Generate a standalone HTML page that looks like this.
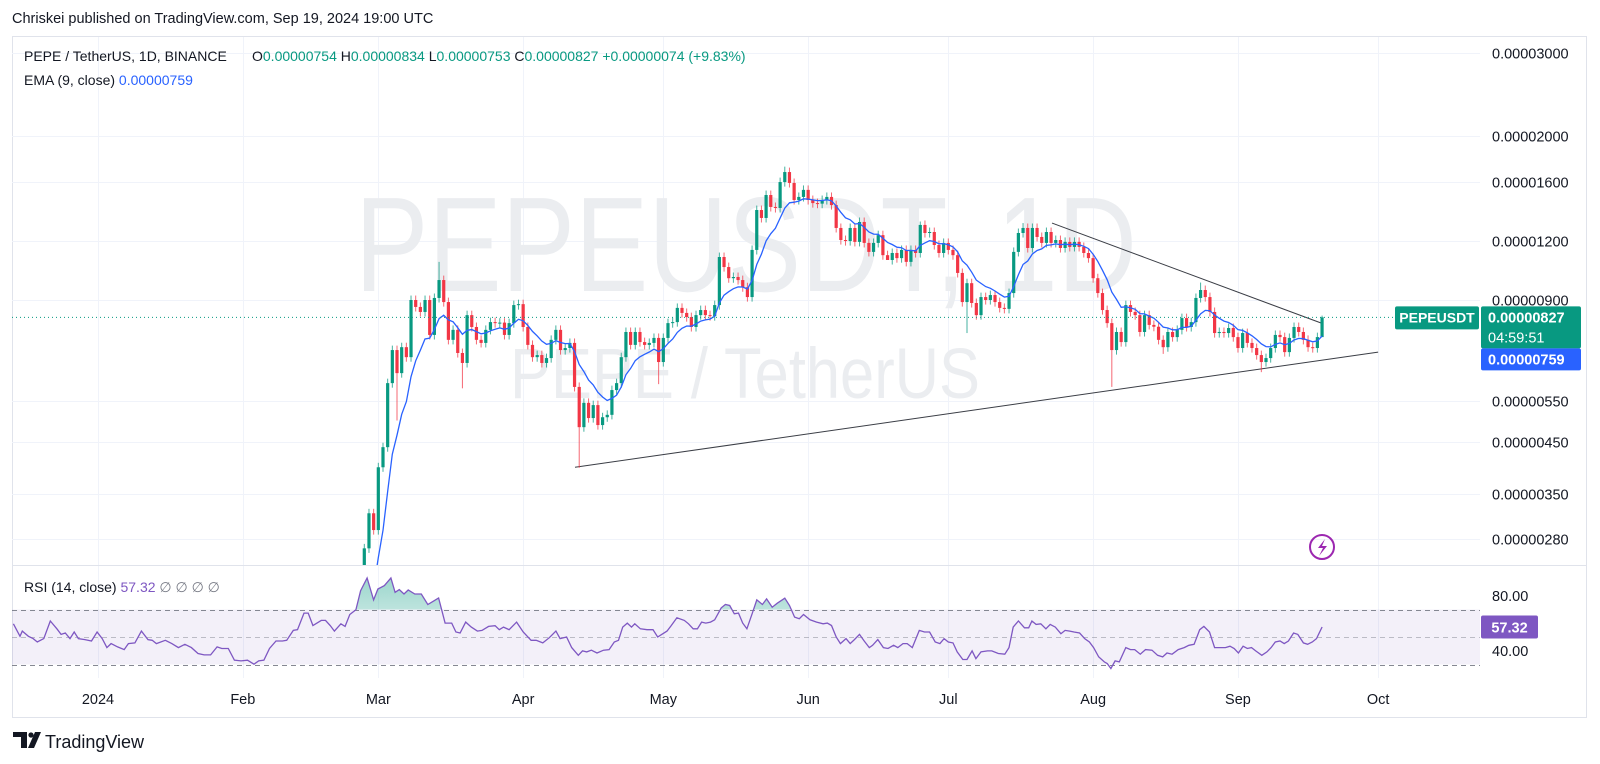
<!DOCTYPE html>
<html><head><meta charset="utf-8"><title>PEPEUSDT 1D</title>
<style>
html,body{margin:0;padding:0;background:#fff;}
svg{display:block;font-family:"Liberation Sans",sans-serif;}
</style></head>
<body>
<svg id="chart" xmlns="http://www.w3.org/2000/svg" width="1600" height="764" viewBox="0 0 1600 764">
<defs>
<clipPath id="priceClip"><rect x="12" y="36" width="1468" height="529"/></clipPath>
<clipPath id="rsiClip"><rect x="12" y="566" width="1468" height="112"/></clipPath>
<clipPath id="obClip"><rect x="12" y="566" width="1468" height="43.5"/></clipPath>
<linearGradient id="obGrad" x1="0" y1="0" x2="0" y2="1"><stop offset="0" stop-color="#089981" stop-opacity="0.4"/><stop offset="1" stop-color="#089981" stop-opacity="0.02"/></linearGradient>
</defs>
<text x="12" y="23" font-size="14.5" fill="#131722">Chriskei published on TradingView.com, Sep 19, 2024 19:00 UTC</text>
<rect x="12.5" y="36.5" width="1574" height="681" fill="#fff" stroke="#e0e3eb"/>
<g id="grid"></g>
<g>
<text x="355" y="291" font-size="135" fill="#ebedf0" textLength="782" lengthAdjust="spacingAndGlyphs">PEPEUSDT, 1D</text>
<text x="510" y="398" font-size="71" fill="#ebedf0" textLength="470" lengthAdjust="spacingAndGlyphs">PEPE / TetherUS</text>
</g>
<g id="pricePane" clip-path="url(#priceClip)"></g>
<line x1="12" y1="565.5" x2="1586" y2="565.5" stroke="#e0e3eb"/>
<g id="rsiPane"></g>
<g id="axes"></g>
<g font-size="14">
<text x="24" y="61" fill="#131722">PEPE / TetherUS, 1D, BINANCE</text>
<text x="252" y="61" fill="#131722">O<tspan fill="#089981">0.00000754</tspan>  H<tspan fill="#089981">0.00000834</tspan>  L<tspan fill="#089981">0.00000753</tspan>  C<tspan fill="#089981">0.00000827</tspan>  <tspan fill="#089981">+0.00000074 (+9.83%)</tspan></text>
<text x="24" y="85" fill="#131722">EMA (9, close)  <tspan fill="#2962ff">0.00000759</tspan></text>
<text x="24" y="592" fill="#131722">RSI (14, close)  <tspan fill="#7e57c2">57.32</tspan>  <tspan fill="#787b86">∅  ∅  ∅  ∅</tspan></text>
</g>
<g>
<circle cx="1322" cy="547" r="12" fill="none" stroke="#9c27b0" stroke-width="2"/>
<path d="M1325 539 L1318 548 L1323 548 L1319 556 L1327 546 L1322 546 Z" fill="#9c27b0"/>
</g>
<g>
<path d="M13 732 H27 V748 H21 V737 H13 Z" fill="#131722"/>
<circle cx="31" cy="735" r="2.6" fill="#131722"/>
<path d="M35 732 H41 L34 748 H28 Z" fill="#131722"/>
<text x="45" y="748" font-size="18" fill="#131722">TradingView</text>
</g>
</svg>
<script>
// ---- data (prices in units of 1e-8) ----
const firstDay = 57; // day-of-year of first candle (Feb 27)
const firstOpen = 240;
const closes = [268,318,293,398,439,600,705,630,715,681,900,870,849,900,759,909,992,891,741,778,
695,662,836,789,741,730,778,808,804,806,759,804,878,882,789,723,681,688,662,678,
741,778,705,712,730,589,484,545,506,539,489,508,514,580,600,681,770,723,770,733,
723,730,748,665,748,804,808,866,845,828,789,836,857,836,832,878,1110,1057,1001,1007,
992,958,913,1149,1396,1343,1502,1417,1410,1600,1680,1593,1466,1488,1540,1466,1444,1440,1466,1488,
1430,1279,
1206,1200,1279,1195,1317,1189,1138,1189,1235,1120,
1094,1132,1104,1149,1084,1149,1132,1298,1248,1254,
1177,1132,1189,1149,1120,1027,891,977,887,836,
913,900,922,891,866,862,931,1138,1248,1279,
1160,1279,1224,1189,1254,1189,1206,1160,1195,1166,
1195,1166,1132,1104,1001,931,857,804,705,770,
733,878,849,836,770,836,797,790,741,715,
770,751,778,824,789,808,909,945,913,849,
766,770,766,785,751,712,766,730,712,688,
665,678,712,759,751,698,748,789,770,741,
715,712,751,827];
const highIdx = [16,90,119,141,179,205];
const highVal = [1084,1725,1320,1310,980,834];
const lowIdx = [7,21,46,63,112,129,160,171,192,205];
const lowVal = [500,585,397,597,1110,766,589,692,633,753];
const emaSeed = 150;
const emaPeriod = 9;
const priceTicks = [3000,2000,1600,1200,900,550,450,350,280];
const priceTickLabels = ["0.00003000","0.00002000","0.00001600","0.00001200","0.00000900","0.00000550","0.00000450","0.00000350","0.00000280"];
const monthDays = [0,31,60,91,121,152,182,213,244,274];
const monthLabels = ["2024","Feb","Mar","Apr","May","Jun","Jul","Aug","Sep","Oct"];
const trendUpperDays = [204.2,262];
const trendUpperVals = [1310,803];
const trendLowerDays = [102.1,274];
const trendLowerVals = [398,698];
const rsiDays = [-18.1,-16.7,-16.2,-14.9,-13.9,-13,-11.6,-10.2,-8.8,-7.9,-7,-6,-5.1,-4.2,-2.8,-1.4,-0.2,0.9,1.9,2.8,4.2,5.6,6.5,7.9,9.3,10.7,11.6,12.5,14.4,15.8,17.2,18.6,20,21.4,22.7,24.1,25.5,26.5,27.9,29.2,30.6,32,33.4,34.4,35.5,36.7,38.1,39.5,40.4,41.8,42.7,44.1,45,46,47.8,48.7,49.7,50.6,52,52.9,53.9,55.2,56.2,57.6,59,59.9,61.3,62.7,63.6,64.5,65.5,66.4,67.8,69.2,70.6,72,72.9,74.3,75.7,76.6,77.5,78.7,79.9,81.2,82.2,83.6,85,85.9,86.8,88,89.6,91,92.7,93.8,95.2,96.6,98,98.9,100.3,101.4,102.8,103.7,104.6,105.6,106.8,108.2,109.4,110.5,111.4,112.3,113.3,114.2,114.9,116.1,117.5,118.8,119.8,
121.8,122.7,123.9,125.5,126.4,127.4,128.3,129.2,130.1,131.1,132,133.4,134.3,135.2,136.2,137.1,138,138.9,140,141,142.2,143.1,144.3,145.4,147,148,149.1,150.1,151,152.4,153.8,155.2,156.1,157,158,158.9,160.1,161,161.9,163,164,165.1,165.8,166.9,168.1,169.1,170.3,171.2,172.3,173.2,174.3,175.8,176.9,178,179.2,180.2,181.1,182,183,183.9,185.1,186,187.1,187.9,189,190.4,191.3,192.7,194.1,195,195.9,197,198.3,199.2,199.9,200.8,201.8,202.9,203.8,204.9,206.1,207,208,208.9,210.1,211.2,212.2,213.1,214.2,215.4,216,216.8,217.7,218.6,220,221,221.9,223.1,224.2,225.6,226.8,227.9,228.8,229.9,231.2,232.5,233.5,234.6,235.8,236.7,237.9,239,240.4,241.3,242.3,243.2,244.1,245.1,246,246.9,247.8,249.1,250.2,251.1,252,253,253.9,254.8,255.9,256.8,258,258.9,259.9,260.8,262];
const rsiVals = [59.6,50.5,54.3,50.5,48.8,46.4,48.8,61.6,56.0,51.9,52.9,48.8,53.6,48.8,48.1,47.1,53.6,48.8,42.3,45.2,42.8,40.8,45.2,45.7,54.3,48.1,47.6,45.2,47.6,45.2,42.3,44.7,42.3,38.0,37.0,37.0,42.8,41.6,41.6,33.1,32.6,33.1,30.2,32.6,33.1,41.6,47.1,47.1,47.6,54.8,55.3,67.4,67.4,58.4,62.1,62.1,58.4,54.3,59.6,57.7,66.4,69.8,83.7,92.9,77.0,84.9,87.4,92.9,82.5,84.5,81.3,84.2,81.3,81.3,73.6,76.5,78.4,60.1,60.1,53.6,52.9,60.8,57.2,54.3,54.8,57.7,58.2,55.3,57.2,55.3,60.8,53.6,47.6,47.6,45.7,49.5,54.3,48.8,50.0,42.3,36.7,39.9,39.2,40.4,38.4,40.4,40.8,46.4,47.6,57.2,60.1,57.2,59.6,56.0,55.3,55.3,50.0,
54.3,58.4,64.0,62.1,59.6,56.0,56.0,60.8,60.1,60.8,62.5,71.2,73.6,72.9,66.9,67.4,60.1,56.0,66.9,77.0,73.6,77.7,71.7,74.6,78.2,72.9,64.5,63.3,66.4,62.5,60.8,59.6,60.1,58.4,50.0,45.2,48.8,45.2,48.1,51.9,47.1,42.3,44.0,48.1,42.3,41.6,44.0,42.3,45.2,45.2,42.3,54.8,53.6,53.6,46.4,45.2,48.8,46.4,45.7,39.2,33.6,33.6,39.9,34.3,39.2,39.9,39.9,38.0,37.5,42.3,57.2,61.6,56.7,56.7,61.6,59.2,59.6,56.0,59.2,57.2,52.4,54.8,54.3,53.6,52.9,48.8,46.4,42.3,35.5,31.9,30.7,27.1,32.6,31.9,42.3,40.8,40.8,37.5,40.8,40.4,36.7,35.5,38.4,37.5,40.8,42.3,44.0,44.7,55.3,57.7,53.6,42.3,42.3,42.3,43.3,41.6,38.4,43.3,41.6,42.3,39.9,36.7,39.2,42.3,46.4,47.1,45.2,47.1,52.9,51.9,45.7,44.7,46.4,48.8,57.3];
const rsiLevels = [70,50,30];
const rsiTickVals = [80,40];

// ---- scales ----
const NS = "http://www.w3.org/2000/svg";
function xDay(d){ return 98 + 4.672 * d; }
function yPrice(p){ return 300 - 205 * Math.log(p / 900); }
function yRsi(v){ return 637 - (v - 50) * 1.375; }
function mk(tag, attrs, parent){ const e = document.createElementNS(NS, tag); for (const k in attrs) e.setAttribute(k, attrs[k]); parent.appendChild(e); return e; }
function fmt(v){ return (v*1e-8).toFixed(8); }

const grid = document.getElementById('grid');
const axes = document.getElementById('axes');
const pp = document.getElementById('pricePane');
const rp = document.getElementById('rsiPane');

// grid
priceTicks.forEach((p,i)=>{
  const y = Math.round(yPrice(p)) + 0.5;
  const l = mk('line',{x1:12,y1:y,x2:1480,y2:y,stroke:'#f0f3fa'},grid);
  
  
  const t = mk('text',{x:1492,y:y+5,'font-size':14.5,fill:'#131722'},axes);
  t.textContent = priceTickLabels[i];
  
  
});
monthDays.forEach((d,i)=>{
  const x = Math.round(xDay(d)) + 0.5;
  const l = mk('line',{x1:x,y1:37,x2:x,y2:678,stroke:'#f0f3fa'},grid);
  
  
  const t = mk('text',{x:xDay(d),y:704,'font-size':14.5,fill:'#131722','text-anchor':'middle'},axes);
  t.textContent = monthLabels[i];
  
  
});

// trend lines
[[trendUpperDays,trendUpperVals,'trendline-upper'],[trendLowerDays,trendLowerVals,'trendline-lower']].forEach(tl=>{
  const l = mk('line',{x1:xDay(tl[0][0]),y1:yPrice(tl[1][0]),x2:xDay(tl[0][1]),y2:yPrice(tl[1][1]),stroke:'#3a3d45','stroke-width':1},pp);
  
  
});

// candles
let ema = emaSeed; const emaPts = [];
const k = 2/(emaPeriod+1);
closes.forEach((c,i)=>{
  const o = i===0 ? firstOpen : closes[i-1];
  let h = Math.max(o,c)*1.022, lo = Math.min(o,c)*0.978;
  const hi = highIdx.indexOf(i); if (hi>=0) h = highVal[hi];
  const li = lowIdx.indexOf(i); if (li>=0) lo = lowVal[li];
  const up = c >= o;
  const col = up ? '#089981' : '#f23645';
  const x = xDay(firstDay + i);
  const g = mk('g',{},pp);
  
  
  mk('line',{x1:x,y1:yPrice(h),x2:x,y2:yPrice(lo),stroke:col,'stroke-width':1,opacity:0.75},g);
  const yt = yPrice(Math.max(o,c)), yb = yPrice(Math.min(o,c));
  mk('rect',{x:x-1.6,y:yt,width:3.2,height:Math.max(1,yb-yt),fill:col},g);
  ema = ema + k*(c-ema);
  emaPts.push(x.toFixed(1)+','+yPrice(ema).toFixed(1));
});
const emaLine = mk('polyline',{points:emaPts.join(' '),fill:'none',stroke:'#2962ff','stroke-width':1.3},pp);



// last price line
const lastC = closes[closes.length-1];
const yl = yPrice(lastC);
const pl = mk('line',{x1:12,y1:yl,x2:1480,y2:yl,stroke:'#089981','stroke-dasharray':'1,3','stroke-width':1},pp);



// price labels
const symBox = mk('rect',{x:1395,y:yl-11,width:84,height:23,rx:2,fill:'#089981'},axes);


const symT = mk('text',{x:1437,y:yl+5,'font-size':14,'font-weight':'bold',fill:'#fff','text-anchor':'middle'},axes);
symT.textContent = 'PEPEUSDT';


const lpBox = mk('rect',{x:1481,y:yl-11,width:100,height:42,rx:2,fill:'#089981'},axes);


const lpT = mk('text',{x:1488,y:yl+5,'font-size':14.5,'font-weight':'bold',fill:'#fff'},axes);
lpT.textContent = fmt(lastC);


const cdT = mk('text',{x:1488,y:yl+25,'font-size':14.5,fill:'#fff'},axes);
cdT.textContent = '04:59:51';


const emBox = mk('rect',{x:1481,y:yl+31,width:100,height:22,rx:2,fill:'#2962ff'},axes);


const emT = mk('text',{x:1488,y:yl+47,'font-size':14.5,'font-weight':'bold',fill:'#fff'},axes);
emT.textContent = '0.00000759';



// RSI pane
const band = mk('rect',{x:12,y:yRsi(70),width:1468,height:yRsi(30)-yRsi(70),fill:'#7e57c2','fill-opacity':0.09},rp);


rsiLevels.forEach(v=>{
  const y = Math.round(yRsi(v))+0.5;
  const l = mk('line',{x1:12,y1:y,x2:1480,y2:y,stroke:'#787b86','stroke-dasharray':'5,4','stroke-opacity':v===50?0.45:0.9},rp);
  
  
});
const rpts = rsiDays.map((d,i)=>xDay(d).toFixed(1)+','+yRsi(rsiVals[i]).toFixed(1));
const ob = mk('polygon',{points:xDay(rsiDays[0]).toFixed(1)+','+yRsi(70)+' '+rpts.join(' ')+' '+xDay(rsiDays[rsiDays.length-1]).toFixed(1)+','+yRsi(70),fill:'url(#obGrad)','clip-path':'url(#obClip)'},rp);


const rl = mk('polyline',{points:rpts.join(' '),fill:'none',stroke:'#7e57c2','stroke-width':1.3,'clip-path':'url(#rsiClip)'},rp);


rsiTickVals.forEach(v=>{
  const t = mk('text',{x:1492,y:yRsi(v)+5,'font-size':14.5,fill:'#131722'},axes);
  t.textContent = v.toFixed(2);
  
  
});
const lastR = rsiVals[rsiVals.length-1];
const rb = mk('rect',{x:1481,y:yRsi(lastR)-11.5,width:57,height:23,rx:2,fill:'#7e57c2'},axes);


const rt = mk('text',{x:1509.5,y:yRsi(lastR)+5.5,'font-size':14.5,'font-weight':'bold',fill:'#fff','text-anchor':'middle'},axes);
rt.textContent = '57.32';


</script>
</body></html>
